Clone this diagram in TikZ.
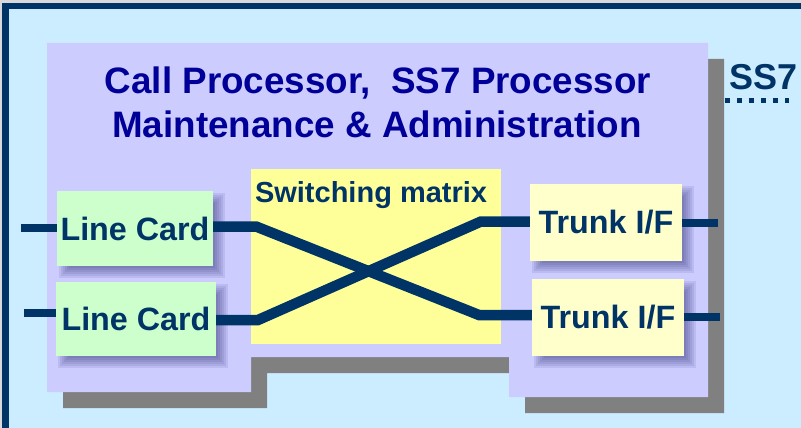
\documentclass[tikz,border=0pt]{standalone}
\usepackage{fontspec}
\setmainfont{Liberation Sans}
\definecolor{navy}{HTML}{003366}
\definecolor{titleblue}{HTML}{000099}
\definecolor{skyfill}{HTML}{CCECFF}
\definecolor{panelfill}{HTML}{CCCCFF}
\definecolor{greenfill}{HTML}{CCFFCC}
\definecolor{matrixfill}{HTML}{FFFF99}
\definecolor{trunkfill}{HTML}{FFFFCC}
\definecolor{dropgray}{HTML}{808080}
\definecolor{pagegray}{HTML}{D9D9D9}
\definecolor{shadeblue}{HTML}{1A1A66}
\pgfdeclarelayer{base}
\pgfdeclarelayer{shade}
\pgfsetlayers{base,shade,main}
% soft blurred drop shadow under a card, built from stacked translucent rectangles
\newcommand\softshade[1]{%
  \foreach \e in {5,3,1,-1,-3,-5}{%
    \fill[shadeblue, opacity=0.09]
      ([shift={(7-\e,7-\e)}]#1.north west) rectangle ([shift={(7+\e,7+\e)}]#1.south east);}}
\tikzset{
  card/.style={inner sep=0pt, font=\fontsize{32.3}{36}\bfseries\selectfont, text=navy},
  linecard/.style={card, fill=greenfill},
  trunkcard/.style={card, fill=trunkfill},
  stub/.style={navy, line width=8pt},
  bus/.style={navy, line width=10.5pt},
  titletext/.style={inner sep=0pt, anchor=base, text=titleblue, font=\fontsize{36.8}{40}\bfseries\selectfont},
}
\begin{document}
\begin{tikzpicture}[x=1pt, y=-1pt]
\useasboundingbox (0,0) rectangle (801,428);

\begin{pgfonlayer}{base}
  % page, framed slide area
  \fill[pagegray] (0,0) rectangle (801,428);
  \fill[skyfill] (5.5,6) rectangle (840,431);
  \draw[navy, line width=6.5pt] (5.5,6) rectangle (840,431);
  % stepped exchange panel with its hard drop shadow
  \fill[dropgray] (63,59) -- (724,59) -- (724,413) -- (525,413) -- (525,373)
     -- (267,373) -- (267,408) -- (63,408) -- cycle;
  \fill[panelfill] (47,43) -- (708,43) -- (708,397) -- (509,397) -- (509,357)
     -- (251,357) -- (251,392) -- (47,392) -- cycle;
\end{pgfonlayer}

% headings
\node[titletext] (title1) at (378,93) {Call Processor,\ \ SS7 Processor};
\node[titletext] (title2) at (377,137) {Maintenance \& Administration};

% switching matrix
\node[fill=matrixfill, inner sep=0pt, minimum width=250pt, minimum height=175pt] (mx) at (376,256.5) {};
\node[inner sep=0pt, anchor=base west, text=navy, font=\fontsize{29}{34}\bfseries\selectfont]
  (mxlabel) at ([shift={(4,34)}]mx.north west) {Switching matrix};

% line cards and trunk interfaces
\node[linecard, minimum width=156pt, minimum height=75pt] (lc1) at (135,228.5) {Line Card};
\node[linecard, minimum width=160pt, minimum height=74pt] (lc2) at (136,319) {Line Card};
\node[trunkcard, minimum width=152pt, minimum height=77pt] (tk1) at (606,222.5) {Trunk I/F};
\node[trunkcard, minimum width=152pt, minimum height=77pt] (tk2) at (608,317.5) {Trunk I/F};

\begin{pgfonlayer}{shade}
  \softshade{lc1}\softshade{lc2}\softshade{tk1}\softshade{tk2}
\end{pgfonlayer}

% subscriber and trunk stubs
\coordinate (sub1) at (21,227.5);
\coordinate (sub2) at (24,313);
\coordinate (out1) at (718,223);
\coordinate (out2) at (720,317);
\draw[stub] (sub1) -- (sub1 -| lc1.west);
\draw[stub] (sub2) -- (sub2 -| lc2.west);
\draw[stub] (out1 -| tk1.east) -- (out1);
\draw[stub] (out2 -| tk2.east) -- (out2);

% crossed paths through the matrix
\coordinate (a1) at (256,226.5);
\coordinate (a2) at (479,315);
\coordinate (b1) at (258,320);
\coordinate (b2) at (481,221.5);
\draw[bus] (a1 -| lc1.east) -- (a1) -- (a2) -- (a2 -| tk2.west);
\draw[bus] (b1 -| lc2.east) -- (b1) -- (b2) -- (b2 -| tk1.west);

% signalling link
\node[inner sep=0pt, anchor=base west, text=navy, font=\fontsize{36}{40}\bfseries\selectfont]
  (ss7) at (729,89) {SS7};
\coordinate (ssend) at (789,100.5);
\draw[navy, line width=5pt, dash pattern=on 5pt off 7pt] (725,100.5) -- (ssend);
\end{tikzpicture}
\end{document}
